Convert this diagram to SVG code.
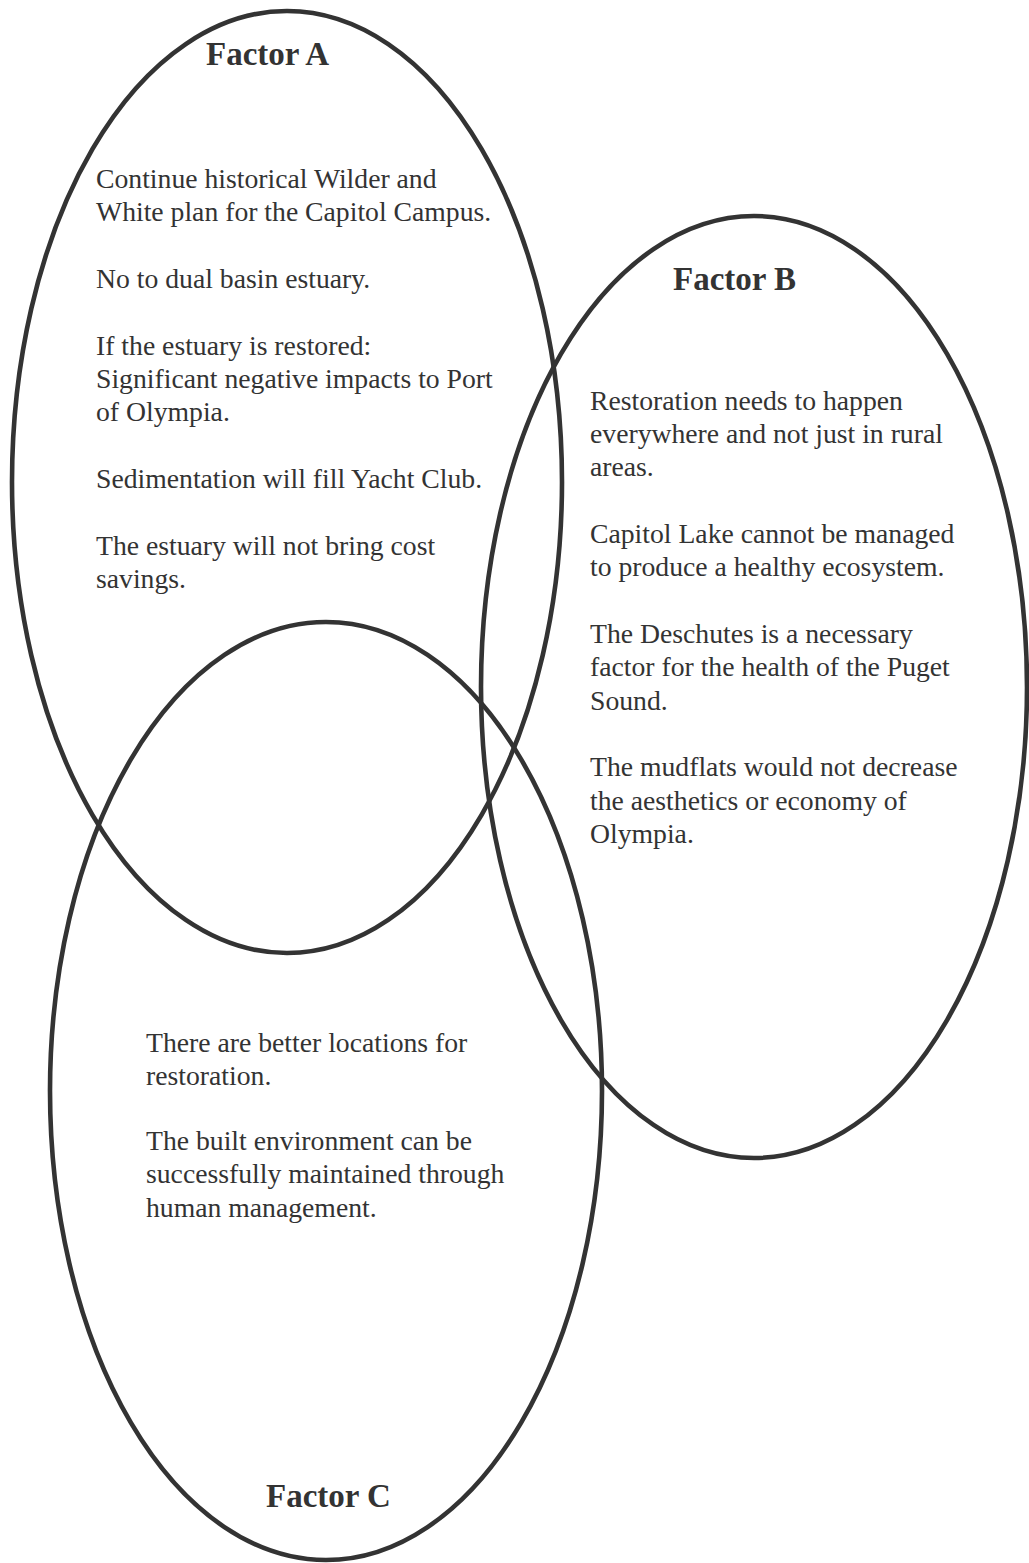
<svg xmlns="http://www.w3.org/2000/svg" width="1029" height="1563" viewBox="0 0 1029 1563">
<style>
.ring{fill:none;stroke:#333;stroke-width:4.6}
.title{font-family:"Liberation Serif","Times New Roman",serif;font-weight:bold;font-size:33px;fill:#333}
.body{font-family:"Liberation Serif","Times New Roman",serif;font-size:27.7px;fill:#333}
</style>
<rect width="1029" height="1563" fill="#fff"/>
<g id="factor-a">
<ellipse class="ring" cx="287" cy="482" rx="275" ry="471"/>
<text class="title" x="206" y="65">Factor A</text>
<text class="body">
<tspan x="96" y="188">Continue historical Wilder and</tspan>
<tspan x="96" y="221">White plan for the Capitol Campus.</tspan>
<tspan x="96" y="288">No to dual basin estuary.</tspan>
<tspan x="96" y="355">If the estuary is restored:</tspan>
<tspan x="96" y="388">Significant negative impacts to Port</tspan>
<tspan x="96" y="421">of Olympia.</tspan>
<tspan x="96" y="488">Sedimentation will fill Yacht Club.</tspan>
<tspan x="96" y="555">The estuary will not bring cost</tspan>
<tspan x="96" y="588">savings.</tspan>
</text>
</g>
<g id="factor-b">
<ellipse class="ring" cx="754" cy="687" rx="273" ry="471"/>
<text class="title" x="673" y="290">Factor B</text>
<text class="body">
<tspan x="590" y="410">Restoration needs to happen</tspan>
<tspan x="590" y="443">everywhere and not just in rural</tspan>
<tspan x="590" y="476">areas.</tspan>
<tspan x="590" y="543">Capitol Lake cannot be managed</tspan>
<tspan x="590" y="576">to produce a healthy ecosystem.</tspan>
<tspan x="590" y="643">The Deschutes is a necessary</tspan>
<tspan x="590" y="676">factor for the health of the Puget</tspan>
<tspan x="590" y="710">Sound.</tspan>
<tspan x="590" y="776">The mudflats would not decrease</tspan>
<tspan x="590" y="810">the aesthetics or economy of</tspan>
<tspan x="590" y="843">Olympia.</tspan>
</text>
</g>
<g id="factor-c">
<ellipse class="ring" cx="326" cy="1091" rx="276" ry="469"/>
<text class="title" x="266" y="1507">Factor C</text>
<text class="body">
<tspan x="146" y="1052">There are better locations for</tspan>
<tspan x="146" y="1085">restoration.</tspan>
<tspan x="146" y="1150">The built environment can be</tspan>
<tspan x="146" y="1183">successfully maintained through</tspan>
<tspan x="146" y="1217">human management.</tspan>
</text>
</g>
<g id="connectors"></g>
</svg>
